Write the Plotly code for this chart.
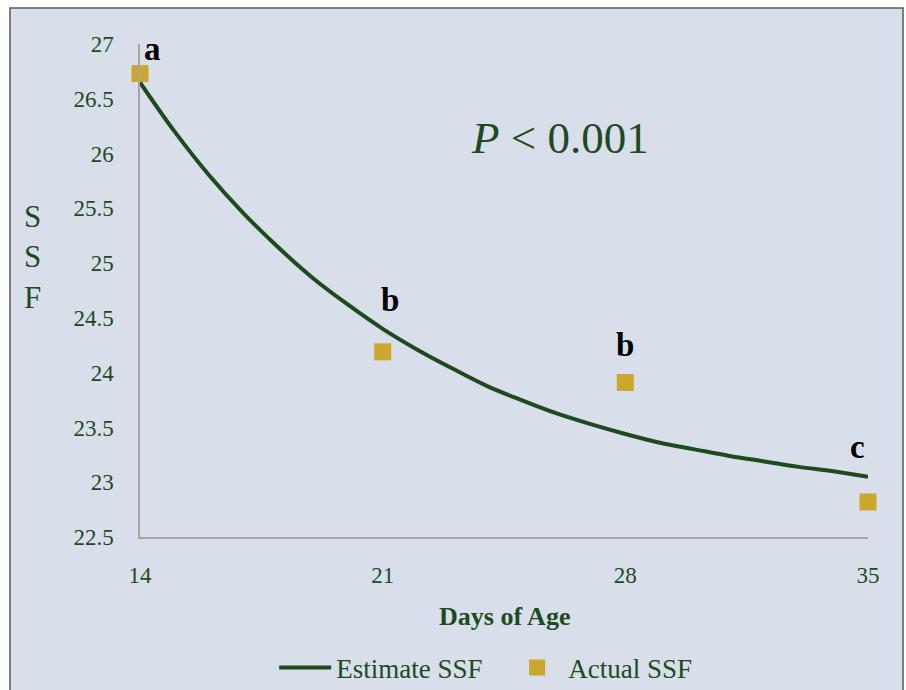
import plotly.graph_objects as go

# ---- data ----
est_days = [14, 15, 16, 17, 18, 19, 20, 21, 22, 23, 24, 25, 26, 27, 28, 29, 30, 31, 32, 33, 34, 35]
est_ssf = [26.65, 26.20, 25.80, 25.45, 25.14, 24.86, 24.62, 24.40, 24.21, 24.04, 23.88, 23.75,
           23.63, 23.53, 23.44, 23.36, 23.30, 23.24, 23.19, 23.14, 23.10, 23.05]
act_days = [14, 21, 28, 35]
act_ssf = [26.73, 24.19, 23.91, 22.82]
sig_letters = ["a", "b", "b", "c"]
sig_x = [14.35, 21.2, 28.0, 34.71]
sig_y = [26.95, 24.66, 24.25, 23.32]
x_ticks = [14, 21, 28, 35]
x_ticktext = ["14", "21", "28", "35"]
y_ticks = [22.5, 23, 23.5, 24, 24.5, 25, 25.5, 26, 26.5, 27]
y_ticktext = ["22.5", "23", "23.5", "24", "24.5", "25", "25.5", "26", "26.5", "27"]

GREEN = "#1D4B1E"
GOLD = "#CBA82B"
BG = "#D9DEEB"
FONT = "Liberation Serif"

fig = go.Figure()
fig.add_trace(go.Scatter(
    x=est_days, y=est_ssf, mode="lines", name="Estimate SSF",
    line=dict(color=GREEN, width=4, shape="spline"), cliponaxis=False))
fig.add_trace(go.Scatter(
    x=act_days, y=act_ssf, mode="markers", name="Actual SSF",
    marker=dict(symbol="square", size=17, color=GOLD), cliponaxis=False))

for t, xx, yy in zip(sig_letters, sig_x, sig_y):
    fig.add_annotation(x=xx, y=yy, xref="x", yref="y", text="<b>" + t + "</b>",
                       xanchor="center", yanchor="middle",
                       showarrow=False, font=dict(family=FONT, size=33, color="black"))

fig.add_annotation(x=0.577, y=0.809, xref="paper", yref="paper",
                   xanchor="center", yanchor="middle",
                   text="<i>P</i> &lt; 0.001", showarrow=False,
                   font=dict(family=FONT, size=45, color=GREEN))
fig.add_annotation(x=-0.147, y=0.568, xref="paper", yref="paper",
                   xanchor="center", yanchor="middle",
                   text="S<br>S<br>F", showarrow=False,
                   font=dict(family=FONT, size=31, color=GREEN))
fig.add_annotation(x=0.5, y=-0.162, xref="paper", yref="paper",
                   xanchor="center", yanchor="middle",
                   text="<b>Days of Age</b>", showarrow=False,
                   font=dict(family=FONT, size=26, color=GREEN))

fig.add_shape(type="rect", xref="paper", yref="paper",
              x0=-0.1786, x1=1.0481, y0=-0.34, y1=1.073,
              line=dict(color="#595959", width=1.5), fillcolor=BG, layer="below")

fig.update_xaxes(range=[14, 35], tickvals=x_ticks, ticktext=x_ticktext,
                 showgrid=False, zeroline=False, showline=True, linecolor="#A6A6A6",
                 linewidth=1.5, ticks="", ticklabelstandoff=17, automargin=False,
                 tickfont=dict(family=FONT, size=23, color=GREEN))
fig.update_yaxes(range=[22.5, 27], tickvals=y_ticks, ticktext=y_ticktext,
                 showgrid=False, zeroline=False, showline=True, linecolor="#A6A6A6",
                 linewidth=1.5, ticks="", ticklabelstandoff=20, automargin=False,
                 tickfont=dict(family=FONT, size=23, color=GREEN))

fig.update_layout(
    width=906, height=690, autosize=False,
    margin=dict(l=140, r=38, t=44, b=153),
    paper_bgcolor="white", plot_bgcolor="rgba(0,0,0,0)",
    showlegend=True,
    legend=dict(orientation="h", x=0.503, xanchor="center",
                yref="container", y=1 - 668 / 690, yanchor="middle",
                font=dict(family=FONT, size=27, color=GREEN), bgcolor="rgba(0,0,0,0)",
                itemwidth=52, entrywidth=165, entrywidthmode="pixels", tracegroupgap=0),
)

fig.write_html("out.html", config={"displayModeBar": False},
               post_script="document.body.style.margin='0px';document.body.style.padding='0px';")
